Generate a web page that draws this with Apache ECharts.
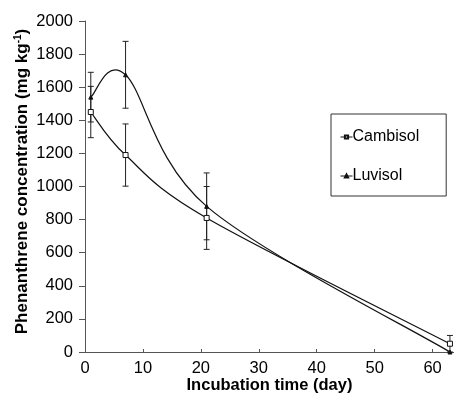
<!DOCTYPE html>
<html>
<head>
<meta charset="utf-8">
<script src="https://cdn.jsdelivr.net/npm/echarts@6/dist/echarts.min.js"></script>
<style>
  html, body { margin: 0; padding: 0; background: #fff; }
  #main { width: 454px; height: 402px; }
</style>
</head>
<body>
<div id="main"></div>
<script>
// incubation days and concentrations (mg/kg)
let days = [1, 7, 21, 63];
let cambisol = [1450, 1190, 810, 50];
let cambisolErr = [155, 188, 190, 50];
let luvisol = [1540, 1675, 880, 0];
let luvisolErr = [150, 202, 202, 0];

let container = document.querySelector('#main');
let charts = echarts.init(container);
let font = 'Liberation Sans, Arial, sans-serif';
let ink = '#111';

let pairs = (ys) => days.map((d, i) => [d, ys[i]]);
let bars = (ys, es) => days.map((d, i) => [d, ys[i] - es[i], ys[i] + es[i]]).filter(b => b[2] > b[1]);

// spreadsheet style smoothing (catmull-rom, 1/6 tangents) between the data points
function curve(ys) {
  return function (params, api) {
    let i = params.dataIndex;
    if (i >= days.length - 1) return null;
    let p = days.map((d, j) => api.coord([d, ys[j]]));
    let p0 = p[Math.max(i - 1, 0)], p1 = p[i], p2 = p[i + 1], p3 = p[Math.min(i + 2, p.length - 1)];
    return {
      type: 'bezierCurve',
      shape: {
        x1: p1[0], y1: p1[1], x2: p2[0], y2: p2[1],
        cpx1: p1[0] + (p2[0] - p0[0]) / 6, cpy1: p1[1] + (p2[1] - p0[1]) / 6,
        cpx2: p2[0] - (p3[0] - p1[0]) / 6, cpy2: p2[1] - (p3[1] - p1[1]) / 6
      },
      style: { stroke: ink, lineWidth: 1.2, fill: null }
    };
  };
}

function errorBar(params, api) {
  let x = api.value(0);
  let lo = api.coord([x, api.value(1)]);
  let hi = api.coord([x, api.value(2)]);
  let style = { stroke: '#222', lineWidth: 1 };
  return {
    type: 'group',
    children: [
      { type: 'line', shape: { x1: lo[0], y1: lo[1], x2: hi[0], y2: hi[1] }, style: style },
      { type: 'line', shape: { x1: lo[0] - 3, y1: lo[1], x2: lo[0] + 3, y2: lo[1] }, style: style },
      { type: 'line', shape: { x1: hi[0] - 3, y1: hi[1], x2: hi[0] + 3, y2: hi[1] }, style: style }
    ]
  };
}

charts.setOption({
  animation: false,
  textStyle: { fontFamily: font, color: '#000' },
  grid: { left: 85, right: 0, top: 21, bottom: 50 },
  legend: {
    orient: 'vertical',
    left: 331,
    top: 114,
    padding: [15, 27, 12, 9],
    borderColor: '#333',
    borderWidth: 1,
    itemGap: 23,
    itemWidth: 12,
    itemHeight: 4,
    textStyle: { fontFamily: font, fontSize: 16, color: '#000', padding: [0, 0, 0, -5] },
    data: [
      { name: 'Cambisol', lineStyle: { opacity: 1, width: 1, color: ink } },
      { name: 'Luvisol', lineStyle: { opacity: 1, width: 1, color: ink } }
    ]
  },
  xAxis: {
    type: 'value',
    min: 0,
    max: 63.7,
    interval: 10,
    name: 'Incubation time (day)',
    nameLocation: 'middle',
    nameGap: 25,
    nameMoveOverlap: false,
    nameTextStyle: { fontFamily: font, fontSize: 16.5, fontWeight: 'bold', color: '#000' },
    axisLine: { lineStyle: { color: '#555' } },
    axisTick: { inside: true, length: 3, lineStyle: { color: '#555' } },
    axisLabel: {
      fontFamily: font, fontSize: 16.5, color: '#000', margin: 8, showMaxLabel: false,
      formatter: v => (v % 10 === 0 ? String(v) : '')
    },
    splitLine: { show: false }
  },
  yAxis: {
    type: 'value',
    min: 0,
    max: 2000,
    interval: 200,
    name: 'Phenanthrene concentration (mg kg{sup|-1})',
    nameLocation: 'middle',
    nameGap: 54,
    nameMoveOverlap: false,
    nameTextStyle: {
      fontFamily: font, fontSize: 17, fontWeight: 'bold', color: '#000', padding: [0, 0, 0, 10],
      rich: { sup: { fontFamily: font, fontSize: 10, fontWeight: 'bold', verticalAlign: 'top', padding: [0, 0, 8, 0] } }
    },
    axisLine: { show: true, lineStyle: { color: '#555' } },
    axisTick: { show: true, length: 6, lineStyle: { color: '#555' } },
    axisLabel: { fontFamily: font, fontSize: 16.5, color: '#000', margin: 12, formatter: v => String(v) },
    splitLine: { show: false }
  },
  series: [
    {
      name: 'Cambisol',
      type: 'line',
      data: pairs(cambisol),
      symbol: 'rect',
      symbolSize: 5,
      lineStyle: { color: ink, width: 1, opacity: 0 },
      itemStyle: { color: '#fff', borderColor: ink, borderWidth: 1 },
      z: 4
    },
    {
      name: 'Luvisol',
      type: 'line',
      data: pairs(luvisol),
      symbol: 'triangle',
      symbolSize: 4,
      lineStyle: { color: ink, width: 1, opacity: 0 },
      itemStyle: { color: ink, borderColor: ink, borderWidth: 1 },
      z: 4
    },
    { type: 'custom', renderItem: curve(cambisol), data: pairs(cambisol), z: 3 },
    { type: 'custom', renderItem: curve(luvisol), data: pairs(luvisol), z: 3 },
    { type: 'custom', renderItem: errorBar, data: bars(cambisol, cambisolErr), encode: { x: 0, y: [1, 2] }, z: 2 },
    { type: 'custom', renderItem: errorBar, data: bars(luvisol, luvisolErr), encode: { x: 0, y: [1, 2] }, z: 2 }
  ]
});
</script>
</body>
</html>
